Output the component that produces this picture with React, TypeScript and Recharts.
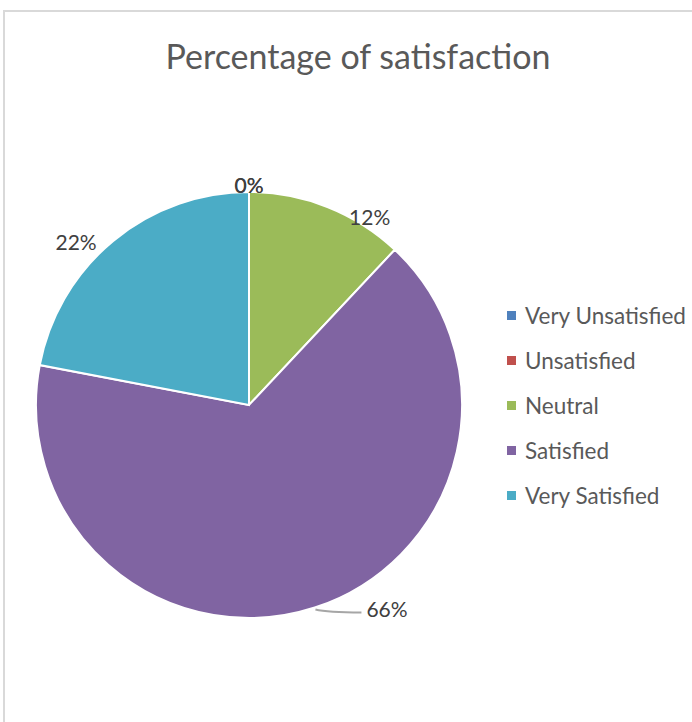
import React from 'react';
import { PieChart, Pie, Cell } from 'recharts';

// Chart data
const categories = ['Very Unsatisfied', 'Unsatisfied', 'Neutral', 'Satisfied', 'Very Satisfied'];
const percentages = [0, 0, 12, 66, 22];
const sliceColors = ['#4F81BD', '#C0504D', '#9BBB59', '#8064A2', '#4BACC6'];

const chartData = categories.map((name, i) => ({ name, value: percentages[i] }));

const FONT = 'Lato, "Noto Sans", sans-serif';
const RAD = Math.PI / 180;

// Excel-style label placement tweaks (degrees clockwise, extra radius)
const labelShift: Record<number, { angle: number; extra: number; leader?: number }> = {
  0: { angle: 0, extra: 8 },
  1: { angle: 0, extra: 8 },
  2: { angle: 11, extra: 11 },
  3: { angle: 0, extra: 0, leader: 46 },
  4: { angle: -7, extra: 25 },
};

const renderLabel = (props: any) => {
  const { cx, cy, midAngle, outerRadius, index, value } = props;
  const shift = labelShift[index] || { angle: 0, extra: 14 };
  const text = `${value}%`;
  if (shift.leader) {
    const sx = cx + (outerRadius + 2) * Math.cos(-midAngle * RAD);
    const sy = cy + (outerRadius + 2) * Math.sin(-midAngle * RAD);
    const ex = sx + shift.leader;
    const ey = sy + 3;
    return (
      <g>
        <path
          d={`M${sx},${sy} Q${sx + 12},${ey} ${ex},${ey}`}
          stroke="#a6a6a6"
          strokeWidth={2}
          fill="none"
        />
        <text
          x={ex + 5}
          y={ey - 4}
          fill="#404040"
          fontSize={21}
          fontFamily={FONT}
          textAnchor="start"
          dominantBaseline="central"
        >
          {text}
        </text>
      </g>
    );
  }
  const a = midAngle - shift.angle;
  const r = outerRadius + shift.extra;
  const x = cx + r * Math.cos(-a * RAD);
  const y = cy + r * Math.sin(-a * RAD);
  return (
    <text
      x={x}
      y={y}
      fill="#404040"
      fontSize={21}
      fontFamily={FONT}
      textAnchor="middle"
      dominantBaseline="central"
    >
      {text}
    </text>
  );
};

const App: React.FC = () => {
  return (
    <div
      style={{
        position: 'absolute',
        left: 0,
        top: 0,
        width: 692,
        height: 722,
        background: '#fff',
        overflow: 'hidden',
        fontFamily: FONT,
      }}
    >
      {/* chart frame */}
      <div
        style={{
          position: 'absolute',
          left: 3,
          top: 10,
          width: 720,
          height: 740,
          border: '2px solid #d9d9d9',
        }}
      />
      <div
        style={{
          position: 'absolute',
          left: 0,
          top: 36,
          width: 716,
          textAlign: 'center',
          fontSize: 34,
          color: '#595959',
          lineHeight: '40px',
        }}
      >
        Percentage of satisfaction
      </div>
      <div style={{ position: 'absolute', left: 0, top: 0 }}>
        <PieChart width={692} height={722} margin={{ top: 0, right: 0, bottom: 0, left: 0 }}>
          <Pie
            data={chartData}
            dataKey="value"
            nameKey="name"
            cx={249}
            cy={405}
            outerRadius={213}
            startAngle={90}
            endAngle={-270}
            stroke="#ffffff"
            strokeWidth={2}
            label={renderLabel}
            labelLine={false}
            isAnimationActive={false}
          >
            {chartData.map((entry, i) => (
              <Cell key={entry.name} fill={sliceColors[i]} />
            ))}
          </Pie>
        </PieChart>
      </div>
      {/* legend */}
      <div style={{ position: 'absolute', left: 507, top: 293 }}>
        {categories.map((name, i) => (
          <div
            key={name}
            style={{ display: 'flex', alignItems: 'center', height: 45 }}
          >
            <span
              style={{
                display: 'inline-block',
                width: 9,
                height: 9,
                background: sliceColors[i],
                marginRight: 9,
              }}
            />
            <span style={{ fontSize: 22.5, color: '#595959', lineHeight: '28px' }}>{name}</span>
          </div>
        ))}
      </div>
    </div>
  );
};

export default App;
